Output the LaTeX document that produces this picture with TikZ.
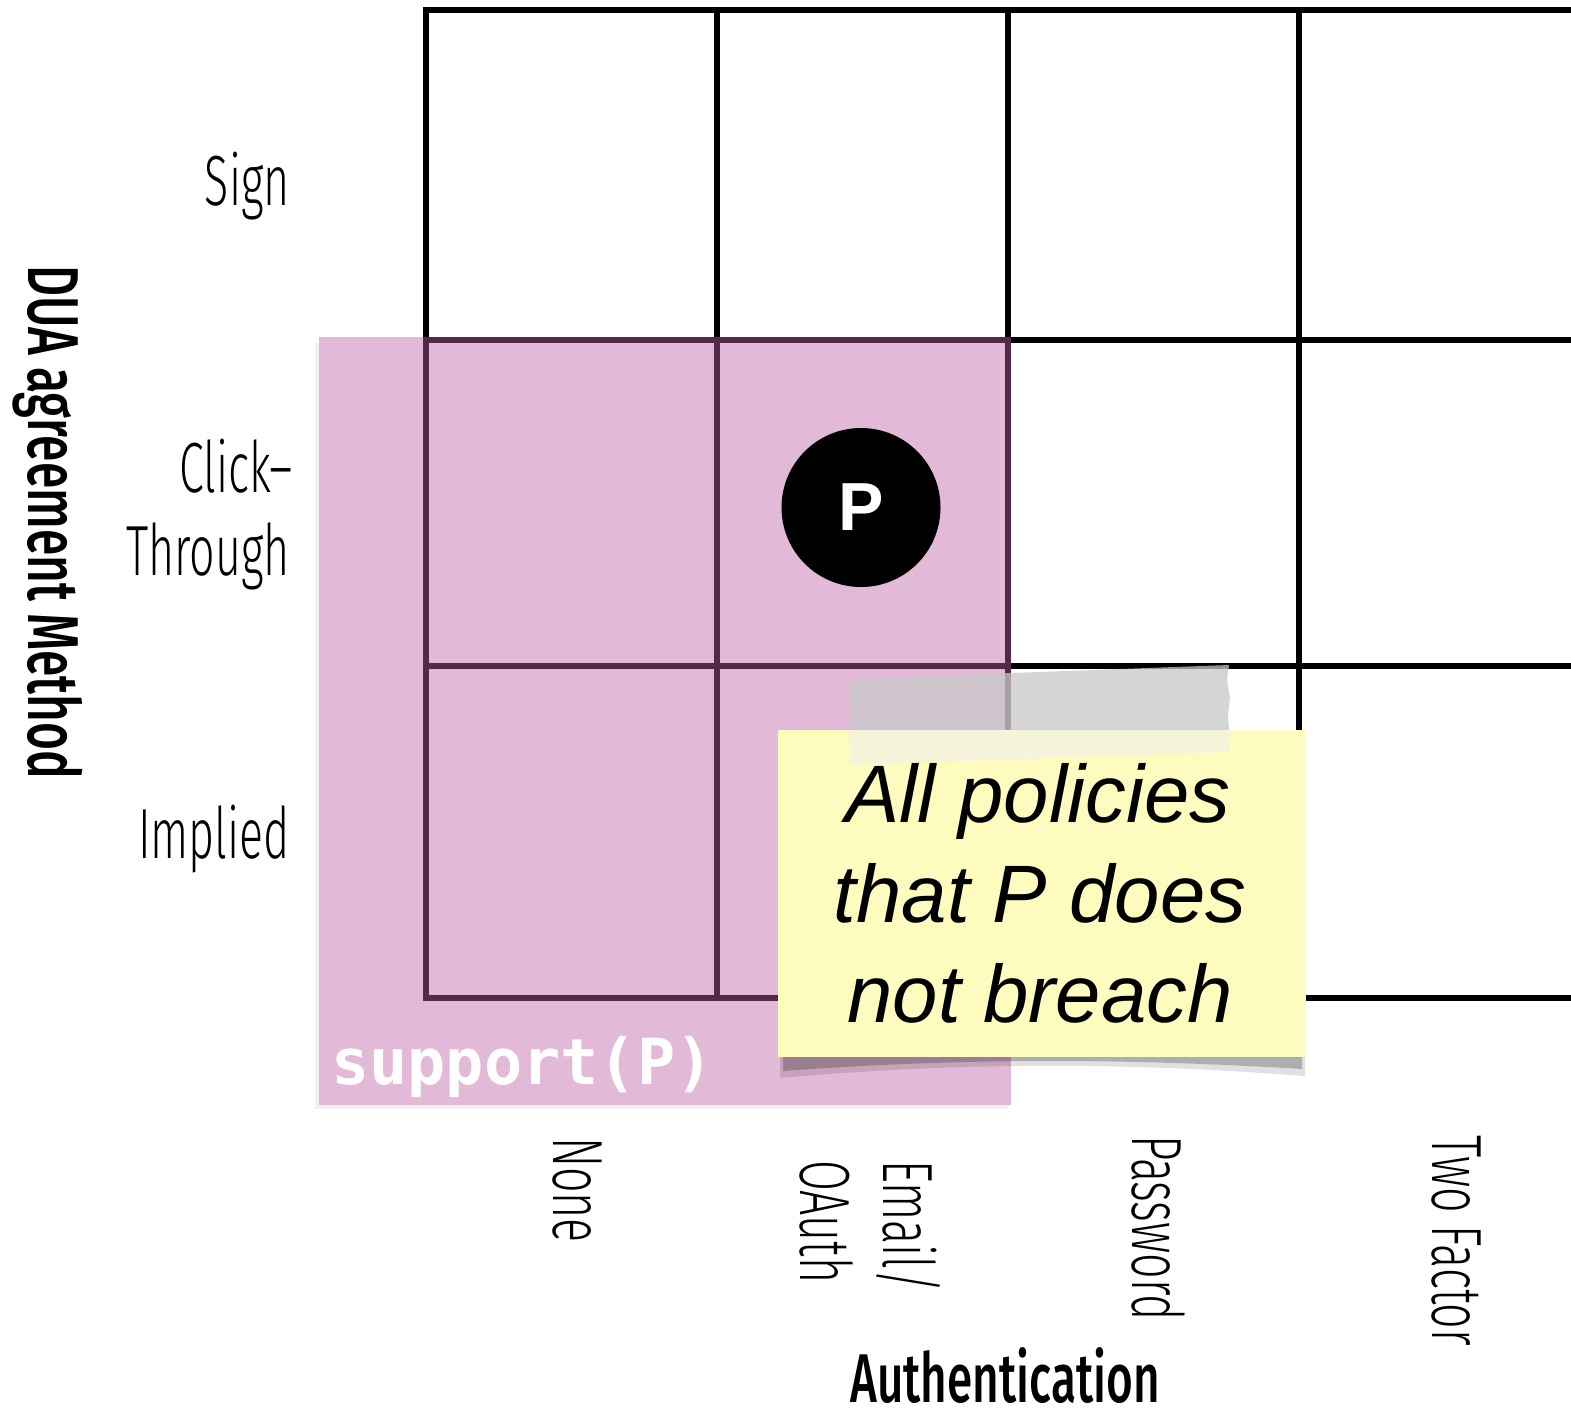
\documentclass[tikz,border=0pt]{standalone}
\usepackage{fontspec}
\newfontfamily\condfont[FakeStretch=0.63, UprightFont={* Light}]{Fira Sans}
\newfontfamily\axisfont[FakeStretch=0.665, UprightFont={* Medium}]{Fira Sans}
\newfontfamily\notefont{Liberation Sans}
\newfontfamily\monobfont{DejaVu Sans Mono}
\definecolor{pinkbase}{RGB}{190,96,162}
\definecolor{notey}{RGB}{253,252,190}
\definecolor{tapegrey}{RGB}{200,200,200}
\definecolor{tapeon}{RGB}{245,243,218}
\begin{document}
\begin{tikzpicture}[x=1pt,y=-1pt,
  gridline/.style={line width=6pt, black, line cap=rect},
  rowlab/.style={font=\condfont\fontsize{71}{83}\selectfont, anchor=base east, inner sep=0pt},
  collab/.style={font=\condfont\fontsize{71}{83}\selectfont, rotate=-90, anchor=base west, inner sep=0pt},
  axislab/.style={font=\axisfont\fontsize{72}{86}\selectfont, inner sep=0pt},
  notetext/.style={font=\notefont\itshape\fontsize{81.5}{100}\selectfont, anchor=base, inner sep=0pt},
  suptext/.style={font=\monobfont\bfseries\fontsize{63.5}{63.5}\selectfont, anchor=base west, inner sep=0pt}]
\useasboundingbox (0,0) rectangle (1571,1414);
\fill[white] (0,0) rectangle (1571,1414);
% grid
\foreach \x in {426,717,1008,1299} \draw[gridline] (\x,9.5) -- (\x,998);
\foreach \y in {9.5,340,666,998} \draw[gridline] (426,\y) -- (1580,\y);
% pink support region with faint shadow
\fill[black, opacity=0.05] (315,343) rectangle (319,1109);
\fill[black, opacity=0.05] (319,1105) rectangle (1008,1109);
\fill[pinkbase, opacity=0.437] (319,337) rectangle (1011,1105);
% policy P
\node[circle, fill=black, minimum size=159pt, inner sep=0pt, text=white,
      font=\notefont\bfseries\fontsize{68}{68}\selectfont] (p) at (861,507.5) {P};
% support(P) label
\node[suptext, text=white] (sup) at (331,1084) {support(P)};
% sticky note shadow
\fill[black, opacity=0.12] (780,1045) -- (1305,1045) -- (1305,1076) .. controls (1120,1062) and (960,1062) .. (780,1078) -- cycle;
\fill[black, opacity=0.22] (783,1045) -- (1302,1045) -- (1302,1069) .. controls (1120,1058) and (960,1058) .. (783,1071) -- cycle;
% sticky note
\fill[notey] (778,730) rectangle (1306,1057);
% tape (grey part above the note, pale part on the note)
\fill[tapegrey, opacity=0.75] (849,679) -- (1229,665) -- (1227,680) -- (1230,698) -- (1228,715) -- (1229,730)
      -- (849,730) -- (851,716) -- (848,702) -- (851,690) -- cycle;
\fill[tapeon] (849,730) -- (1229,730) -- (1230,741) -- (1229,752) -- (849,765) -- (851,750) -- (848,740) -- cycle;
% note text
\node[notetext] (n1) at (1038,822) {All policies};
\node[notetext] (n2) at (1040,922) {that P does};
\node[notetext] (n3) at (1040,1022) {not breach};
% row labels
\node[rowlab] (sign) at (290,205) {Sign};
\node[rowlab] (click) at (293,492) {Click–};
\node[rowlab] (through) at (290,575) {Through};
\node[rowlab] (implied) at (290,858) {Implied};
% column labels
\node[collab] (none) at (553,1137) {None};
\node[collab] (email) at (883,1160) {Email/};
\node[collab] (oauth) at (800,1160) {OAuth};
\node[collab] (password) at (1132,1135) {Password};
\node[collab] (twofactor) at (1432,1135) {Two Factor};
% axis labels
\node[axislab, rotate=-90, anchor=base west] (dua) at (28,265) {DUA agreement Method};
\node[axislab, font=\axisfont\fontsize{69}{80}\selectfont, anchor=base] (auth) at (1005,1402) {Authentication};
\end{tikzpicture}
\end{document}
